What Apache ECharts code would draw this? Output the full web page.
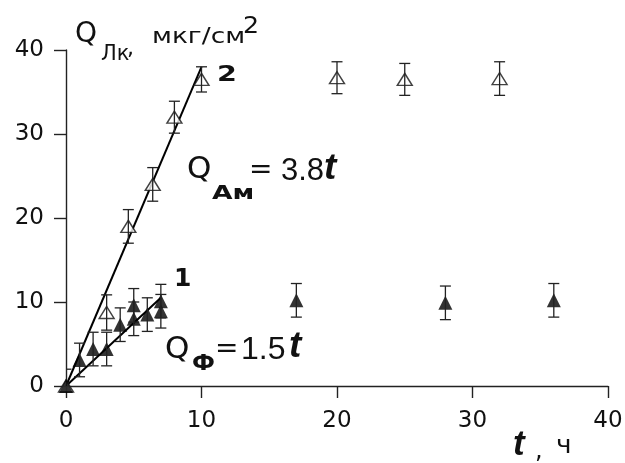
<!DOCTYPE html>
<html><head><meta charset="utf-8">
<script src="https://cdn.jsdelivr.net/npm/echarts@6/dist/echarts.min.js"></script>
<style>html,body{margin:0;padding:0;background:#fff}#c{width:625px;height:463px}</style>
</head><body><div id="c"></div>
<script>
// Axis ticks
const xTicks = [0, 10, 20, 30, 40];
const yTicks = [0, 10, 20, 30, 40];
// Curve 1 (Ф) — filled triangles: time t (h), Q (мкг/см²), error
const filledT   = [0, 1, 2, 3, 4, 5, 5, 6, 7, 7, 17, 28, 36];
const filledQ   = [0, 3.1, 4.4, 4.4, 7.3, 9.6, 8.0, 8.5, 10.1, 8.9, 10.2, 9.9, 10.2];
const filledErr = [0, 2, 2, 2, 2, 2, 2, 2, 2, 2, 2, 2, 2];
// Curve 2 (Ам) — open triangles
const openT   = [0, 3, 4.6, 6.4, 8, 10, 20, 25, 32];
const openQ   = [0, 8.75, 19, 24, 32, 36.5, 36.7, 36.5, 36.6];
const openErr = [2, 2.1, 2, 2, 1.9, 1.5, 1.9, 1.9, 2];
// Linear fits: Q = 3.8t and Q = 1.5t (end points)
const fit2T = [0, 10];
const fit2Q = [0, 38];
const fit1T = [0, 7];
const fit1Q = [0, 10.5];

const zip = (a, b, c) => a.map((v, i) => c ? [v, b[i], c[i]] : [v, b[i]]);
const FONT = '"DejaVu Sans", sans-serif';
const LFONT = '"Liberation Sans", Arial, sans-serif';
const INK = '#111';

function errRender(params, api) {
  const x = api.value(0), y = api.value(1), e = api.value(2);
  if (!e) return null;
  const top = api.coord([x, y + e]);
  const bot = api.coord([x, y - e]);
  const hw = 5.5;
  const st = {stroke: '#222', lineWidth: 1.3};
  return {type: 'group', children: [
    {type: 'line', shape: {x1: top[0], y1: top[1], x2: bot[0], y2: bot[1]}, style: st},
    {type: 'line', shape: {x1: top[0] - hw, y1: top[1], x2: top[0] + hw, y2: top[1]}, style: st},
    {type: 'line', shape: {x1: bot[0] - hw, y1: bot[1], x2: bot[0] + hw, y2: bot[1]}, style: st}
  ]};
}

function txt(x, y, text, font, sx) {
  return {type: 'text', x: x, y: y, scaleX: sx || 1, z: 100,
    style: {text: text, font: font, fill: INK, align: 'left', verticalAlign: 'middle'}};
}

const chart = echarts.init(document.getElementById('c'), null, {renderer: 'canvas'});
const axisCommon = {
  type: 'value', min: 0, max: 40, interval: 10,
  axisLine: {show: true, onZero: false, lineStyle: {color: '#222', width: 1.4}},
  axisTick: {show: true, inside: false, length: 12, lineStyle: {color: '#222', width: 1.4}},
  splitLine: {show: false}
};
chart.setOption({
  animation: false,
  backgroundColor: '#fff',
  grid: {left: 66, right: 17, top: 50, bottom: 77, outerBoundsMode: 'none'},
  xAxis: Object.assign({}, axisCommon, {
    axisLabel: {margin: 24, fontSize: 23, color: INK, fontFamily: 'DejaVu Sans',
      formatter: v => xTicks.includes(v) ? String(v) : ''}
  }),
  yAxis: Object.assign({}, axisCommon, {
    axisLabel: {margin: 22, fontSize: 23, color: INK, fontFamily: 'DejaVu Sans',
      formatter: v => yTicks.includes(v) ? String(v) : ''}
  }),
  series: [
    {type: 'line', data: zip(fit2T, fit2Q), symbol: 'none', z: 2,
      lineStyle: {color: '#000', width: 2}},
    {type: 'line', data: zip(fit1T, fit1Q), symbol: 'none', z: 2,
      lineStyle: {color: '#000', width: 2}},
    {type: 'scatter', data: zip(openT, openQ), symbol: 'triangle', symbolSize: [15, 12], z: 3,
      itemStyle: {color: '#fff', borderColor: '#111', borderWidth: 1.4}},
    {type: 'custom', data: zip(openT, openQ, openErr), renderItem: errRender, z: 4, clip: true},
    {type: 'scatter', data: zip(filledT, filledQ), symbol: 'triangle', symbolSize: [14, 14], z: 5,
      itemStyle: {color: '#000'}},
    {type: 'custom', data: zip(filledT, filledQ, filledErr), renderItem: errRender, z: 6, clip: true}
  ],
  graphic: [
    // Y axis title: Q_Лк, мкг/см²
    txt(75, 35, 'Q', '28px ' + FONT),
    txt(101, 55, 'Лк', '21px ' + FONT, 1.0),
    txt(127, 49, ',', '22px ' + FONT),
    txt(152, 37, 'мкг/см', '22px ' + FONT, 1.2),
    txt(243, 27, '2', '23px ' + FONT, 1.1),
    // curve numbers
    txt(217, 75, '2', 'bold 22px ' + FONT, 1.3),
    txt(174, 279, '1', 'bold 25px ' + FONT, 1.0),
    // Q_Ам = 3.8t
    txt(187, 170, 'Q', '31px ' + FONT),
    txt(212, 194, 'Ам', 'bold 19px ' + FONT, 1.4),
    txt(249, 171, '=', '28px ' + FONT),
    txt(281, 171, '3.8', '31px ' + LFONT),
    txt(324, 169, 't', 'italic bold 37px ' + LFONT),
    // Q_Ф = 1.5t
    txt(165, 350, 'Q', '31px ' + FONT),
    txt(192, 365, 'Ф', 'bold 21px ' + FONT, 1.1),
    txt(215, 350, '=', '28px ' + FONT),
    txt(241, 350, '1.5', '32px ' + LFONT),
    txt(289, 347, 't', 'italic bold 37px ' + LFONT),
    // X axis title: t , ч
    txt(513, 445, 't', 'italic bold 35px ' + LFONT),
    txt(535, 452, ',', '24px ' + FONT),
    txt(556, 447, 'ч', '24px ' + FONT, 1.1)
  ]
});
</script>
</body></html>
